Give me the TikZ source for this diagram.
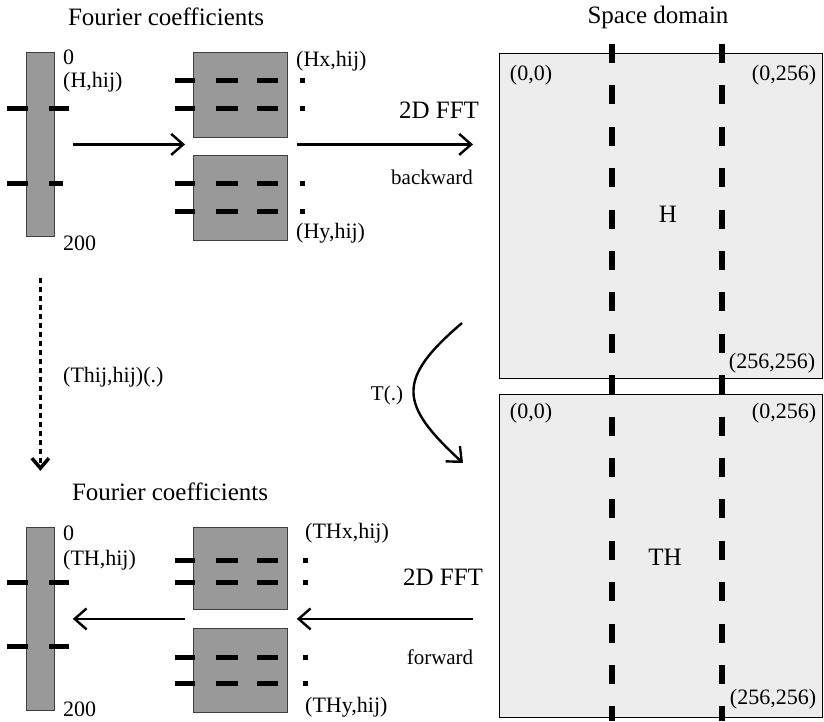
\documentclass[tikz,border=0pt]{standalone}
\usepackage{fontspec}
\setmainfont{Liberation Serif}
\usetikzlibrary{arrows.meta,positioning,calc}

\tikzset{
  coef/.style={draw=black!75, fill=black!40, line width=0.8pt, inner sep=0pt, anchor=north west},
  spacebox/.style={draw, fill=black!7, line width=1.2pt, inner sep=0pt, anchor=north west},
  lbl/.style={inner sep=0pt, font=\fontsize{22}{24}\selectfont},
  big/.style={inner sep=0pt, font=\fontsize{25}{28}\selectfont},
  small/.style={inner sep=0pt, font=\fontsize{21}{24}\selectfont},
  bar/.style={line width=5pt},
  cut/.style={line width=5.5pt, dash pattern=on 19pt off 22.4pt},
  arr/.style={-{Straight Barb[length=12pt,width=21pt]}, line width=2.4pt},
  dots/.style={-{Straight Barb[length=10pt,width=17pt]}, line width=3.5pt, dash pattern=on 5pt off 4pt},
}

\begin{document}
\begin{tikzpicture}[x=1pt, y=-1pt]
  \useasboundingbox (0,0) rectangle (824,721);

  % titles
  \node[big] (ttl1) at (166,17) {Fourier coefficients};
  \node[big] (ttl2) at (170,492) {Fourier coefficients};
  \node[big] (ttl3) at (658,17) {Space domain};

  % space domain
  \node[spacebox, minimum width=323pt, minimum height=325pt] (hspace) at (499,53) {};
  \node[spacebox, minimum width=323pt, minimum height=323pt] (thspace) at (499,394) {};
  \draw[cut] (612,44) -- (612,721);
  \draw[cut] (722,44) -- (722,721);
  \node[lbl] (h00) at (531,75) {(0,0)};
  \node[lbl] (h0n) at (784,75) {(0,256)};
  \node[lbl] (hnn) at (772,363) {(256,256)};
  \node[big] (hlab) at (668,214) {H};
  \node[lbl] (th00) at (531,413) {(0,0)};
  \node[lbl] (th0n) at (784,413) {(0,256)};
  \node[lbl] (thnn) at (773,699) {(256,256)};
  \node[big] (thlab) at (665,557) {TH};

  % coefficients (top)
  \node[coef, minimum width=28pt, minimum height=184pt] (hbar) at (26,52) {};
  \node[coef, minimum width=94pt, minimum height=85pt] (hxblk) at (193,52) {};
  \node[coef, minimum width=94pt, minimum height=85pt] (hyblk) at (193,155) {};
  \draw[bar] (7,108) -- (28,108);
  \draw[bar] (49,108) -- (69,108);
  \draw[bar] (7,183) -- (28,183);
  \draw[bar] (49,183) -- (63,183);
  \foreach \y in {80,108,183,211} {
    \draw[bar] (175,\y) -- (195,\y);
    \draw[bar] (216,\y) -- (238,\y);
    \draw[bar] (257,\y) -- (278,\y);
    \fill (299.5,{\y-2.5}) rectangle ++(5,5);
  }
  \node[lbl, anchor=west] (hzero) at (63,57) {0};
  \node[lbl, anchor=west] (hname) at (63,82) {(H,hij)};
  \node[lbl, anchor=west] (hend) at (63,243) {200};
  \node[lbl, anchor=west] (hxname) at (296,61) {(Hx,hij)};
  \node[lbl, anchor=west] (hyname) at (296,233) {(Hy,hij)};

  % coefficients (bottom)
  \node[coef, minimum width=28pt, minimum height=183pt] (thbar) at (26,527) {};
  \node[coef, minimum width=94pt, minimum height=82pt] (thxblk) at (193,527) {};
  \node[coef, minimum width=94pt, minimum height=84pt] (thyblk) at (193,628) {};
  \draw[bar] (7,582) -- (28,582);
  \draw[bar] (49,582) -- (69,582);
  \draw[bar] (7,646) -- (28,646);
  \draw[bar] (49,646) -- (69,646);
  \foreach \y in {560,582,657,683} {
    \draw[bar] (175,\y) -- (195,\y);
    \draw[bar] (216,\y) -- (238,\y);
    \draw[bar] (257,\y) -- (278,\y);
    \fill (302.5,{\y-2.5}) rectangle ++(5,5);
  }
  \node[lbl, anchor=west] (thzero) at (63,533) {0};
  \node[lbl, anchor=west] (thname) at (63,560) {(TH,hij)};
  \node[lbl, anchor=west] (thend) at (63,709) {200};
  \node[lbl, anchor=west] (thxname) at (305,533) {(THx,hij)};
  \node[lbl, anchor=west] (thyname) at (305,707) {(THy,hij)};

  % transforms
  \node[big] (bfft) at (439,110) {2D FFT};
  \node[small] (bwd) at (432,177) {backward};
  \node[big] (ffft) at (443,577) {2D FFT};
  \node[small] (fwd) at (440,657) {forward};
  \node[lbl, anchor=west] (tmap) at (63,377) {(Thij,hij)(.)};
  \node[small] (tfun) at (387,395) {T(.)};

  \draw[arr, shorten <=18pt, shorten >=8pt] (hbar.east) -- (hbar.east -| hxblk.west);
  \draw[arr, shorten <=9pt, shorten >=26pt] (hbar.east -| hxblk.east) -- (hbar.east -| hspace.west);
  \draw[arr, shorten <=26pt, shorten >=9pt] (thbar.east -| thspace.west) -- (thbar.east -| thxblk.east);
  \draw[arr, shorten <=8pt, shorten >=18pt] (thbar.east -| thxblk.west) -- (thbar.east);
  \draw[dots, shorten <=41pt, shorten >=12pt] (hbar.south) -- (hbar.south |- ttl2.north);

  \coordinate (tfrom) at (462,323);
  \coordinate (tto) at (463,463);
  \draw[arr] (tfrom) .. controls (395,380) and (400,405) .. (tto);
\end{tikzpicture}
\end{document}
